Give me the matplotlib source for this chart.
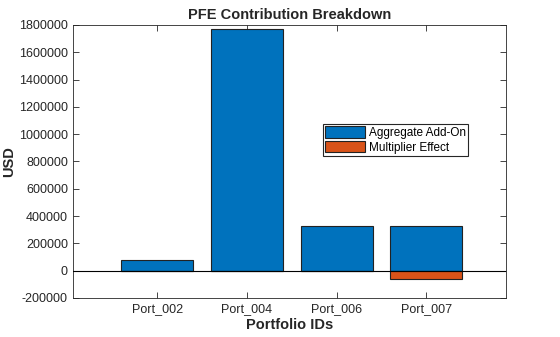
import numpy as np
import matplotlib.pyplot as plt

plt.rcParams['font.family'] = ['Liberation Sans', 'DejaVu Sans']

portfolios = ['Port_002', 'Port_004', 'Port_006', 'Port_007']
aggregate_addon = [75000, 1772000, 330000, 330000]
multiplier_effect = [0, 0, 0, -65000]

fig = plt.figure(figsize=(5.6, 3.37), dpi=100)
ax = fig.add_axes([0.130, 0.116, 0.774, 0.810])

x = np.arange(1, len(portfolios) + 1)
ax.bar(x, aggregate_addon, width=0.8, color='#0072BD', edgecolor='#222222',
       linewidth=0.8, label='Aggregate Add-On', zorder=2)
ax.bar(x, multiplier_effect, width=0.8, color='#D95319', edgecolor='#222222',
       linewidth=0.8, label='Multiplier Effect', zorder=2)
ax.axhline(0, color='black', linewidth=0.8, zorder=3)

ax.set_xlim(0.06, 4.89)
ax.set_ylim(-200000, 1800000)
ax.set_yticks(np.arange(-200000, 1800001, 200000))
ax.set_xticks(x)
ax.set_xticklabels(portfolios)
ax.yaxis.set_major_formatter(plt.FuncFormatter(lambda v, p: '%d' % v))

ax.tick_params(direction='in', top=True, right=True, labelsize=9,
               colors='#262626', length=4, width=0.6)
for s in ax.spines.values():
    s.set_linewidth(0.6)
    s.set_color('#262626')

ax.set_title('PFE Contribution Breakdown', fontsize=10.5, fontweight='bold',
             color='#262626', pad=4)
ax.set_xlabel('Portfolio IDs', fontsize=10.5, fontweight='bold', color='#262626', labelpad=2)
ax.set_ylabel('USD', fontsize=10.5, fontweight='bold', color='#262626', labelpad=2)

leg = ax.legend(loc='upper left', bbox_to_anchor=(0.577, 0.637), fontsize=8.5,
                fancybox=False, edgecolor='#262626', framealpha=1,
                borderpad=0.2, labelspacing=0.15, handlelength=3.4,
                handleheight=1.1, handletextpad=0.3, borderaxespad=0)
leg.get_frame().set_linewidth(0.8)

fig.savefig('out.png', dpi=100)
